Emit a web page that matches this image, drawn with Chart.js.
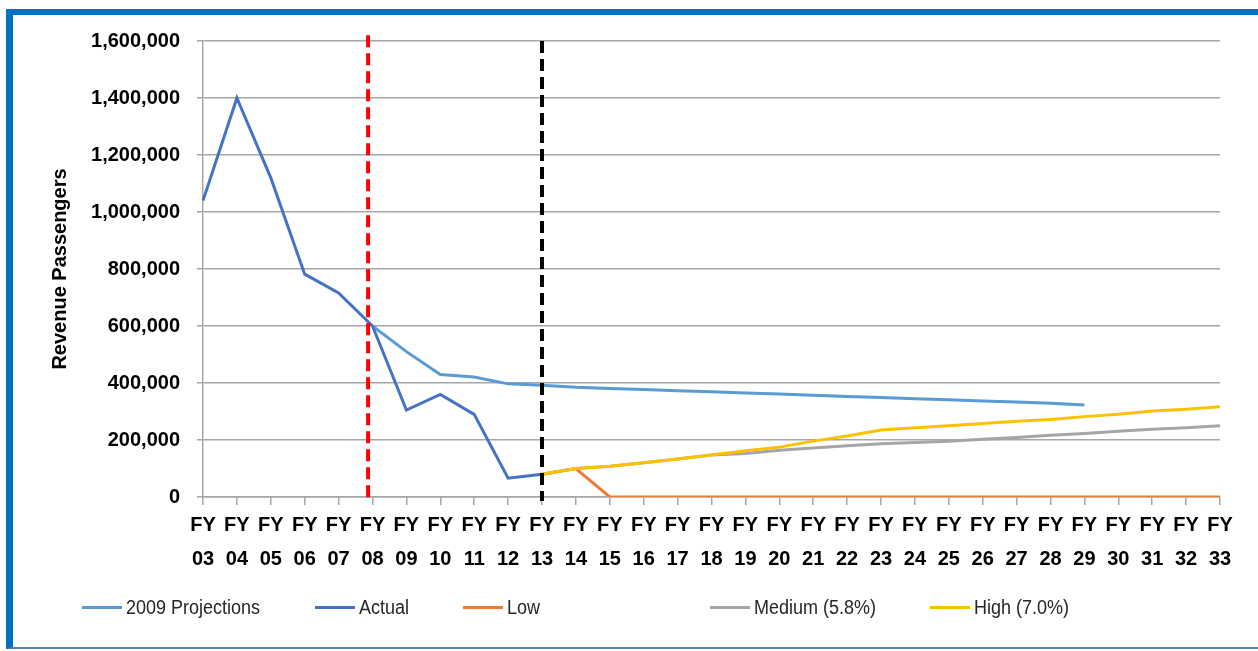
<!DOCTYPE html>
<html>
<head>
<meta charset="utf-8">
<script src="https://cdn.jsdelivr.net/npm/chart.js@4"></script>
<style>
  html, body { margin:0; padding:0; background:#fff; }
  #wrap { position:relative; width:1258px; height:651px; overflow:hidden; background:#fff; }
  #frame { position:absolute; left:6px; top:9px; width:1300px; height:640px;
           border-left:7px solid #0070C0; border-top:6px solid #0070C0; border-bottom:2px solid #5A7FA8; box-sizing:border-box; }
  #c { position:absolute; left:0; top:0; }
  .lg { position:absolute; top:596px; height:22px; display:flex; align-items:center;
        font-family:"Liberation Sans", Arial, sans-serif; font-size:20px; color:#262626; white-space:nowrap; }
  .lg span.ln { display:inline-block; width:40px; height:3px; margin-right:4px; }
  .lg span.tx { display:inline-block; transform:scaleX(0.9); transform-origin:left center; }
</style>
</head>
<body>
<div id="wrap">
  <div id="frame"></div>
  <canvas id="c" width="1258" height="651"></canvas>
  <div id="legend"></div>
</div>
<script>
// ---- data ----
const fyYears = ['03','04','05','06','07','08','09','10','11','12','13','14','15','16','17','18','19','20','21','22','23','24','25','26','27','28','29','30','31','32','33'];
const seriesNames = ['2009 Projections','Actual','Low','Medium (5.8%)','High (7.0%)'];
const seriesColors = ['#5B9BD5','#4472C4','#ED7D31','#A5A5A5','#FFC000'];
// values: FY03 .. FY33 (null = no value)
const projections2009 = [null,null,null,null,null,600000,510000,430000,421000,397000,392000,385000,381000,377000,373000,369000,365000,361000,357000,353000,349000,345000,341000,337000,333000,329000,323000,null,null,null,null];
const actual = [1040000,1400000,1120000,782000,716000,600000,305000,360000,290000,66000,80000,null,null,null,null,null,null,null,null,null,null,null,null,null,null,null,null,null,null,null,null];
const low = [null,null,null,null,null,null,null,null,null,null,80000,100000,0,0,0,0,0,0,0,0,0,0,0,0,0,0,0,0,0,0,0];
const medium = [null,null,null,null,null,null,null,null,null,null,80000,100000,108000,120000,133000,147000,153000,164000,172000,180000,187000,191000,196000,203000,209000,217000,223000,231000,238000,243000,250000];
const high = [null,null,null,null,null,null,null,null,null,null,80000,100000,108000,120000,133000,147000,162000,175000,196000,214000,235000,243000,250000,258000,266000,272000,282000,290000,302000,308000,317000];
const yTicks = [0,200000,400000,600000,800000,1000000,1200000,1400000,1600000];
// reference lines (category index positions)
const refLines = [{at:4.87, top:1620000, color:'#FF0000'}, {at:10, top:1600000, color:'#000000'}];

const allSeries = [projections2009, actual, low, medium, high];
const labels = fyYears.map(y => ['FY', y]);

const datasets = allSeries.map((d, i) => ({
  label: seriesNames[i],
  data: d,
  borderColor: seriesColors[i],
  backgroundColor: seriesColors[i],
  borderWidth: 3,
  pointRadius: 0,
  tension: 0,
  spanGaps: false,
  order: allSeries.length - i
}));

const refLinePlugin = {
  id: 'refLines',
  afterDatasetsDraw(chart) {
    const ctx = chart.ctx, x = chart.scales.x, y = chart.scales.y;
    ctx.save();
    refLines.forEach(r => {
      const px = x.getPixelForValue(r.at);
      ctx.beginPath();
      ctx.strokeStyle = r.color;
      ctx.lineWidth = 4;
      ctx.setLineDash([12, 6]);
      ctx.moveTo(px, y.getPixelForValue(r.top));
      ctx.lineTo(px, y.getPixelForValue(0) + 4);
      ctx.stroke();
    });
    ctx.restore();
  }
};

new Chart(document.getElementById('c'), {
  type: 'line',
  data: { labels, datasets },
  options: {
    responsive: false,
    animation: false,
    devicePixelRatio: 1,
    layout: { padding: { left: 45, right: 38, top: 41, bottom: 72 } },
    plugins: { legend: { display: false }, tooltip: { enabled: false } },
    scales: {
      x: {
        type: 'category',
        offset: false,
        grid: { drawOnChartArea: false, drawTicks: true, tickLength: 8, color: '#A6A6A6', lineWidth: 1.5 },
        border: { display: true, color: '#A6A6A6', width: 1.5 },
        ticks: {
          autoSkip: false, maxRotation: 0, minRotation: 0, padding: 3, color: '#000',
          font: { family: '"Liberation Sans", Arial, sans-serif', size: 20, weight: 'bold', lineHeight: 1.7 }
        }
      },
      y: {
        min: 0, max: 1600000,
        afterFit(scale) { scale.width = 158; },
        afterBuildTicks(scale) { scale.ticks = yTicks.map(v => ({ value: v })); },
        grid: { color: '#A6A6A6', lineWidth: 1.5, tickLength: 6 },
        border: { display: true, color: '#A6A6A6', width: 1.5 },
        ticks: {
          padding: 17, color: '#000',
          font: { family: '"Liberation Sans", Arial, sans-serif', size: 20, weight: 'bold' },
          callback: v => Number(v).toLocaleString('en-US')
        },
        title: {
          display: true, text: 'Revenue Passengers', color: '#000',
          font: { family: '"Liberation Sans", Arial, sans-serif', size: 20, weight: 'bold' },
          padding: { top: 3, bottom: 0 }
        }
      }
    }
  },
  plugins: [refLinePlugin]
});

// legend (HTML)
const legendLeft = [82, 315, 463, 710, 930];
const lg = document.getElementById('legend');
seriesNames.forEach((n, i) => {
  const d = document.createElement('div');
  d.className = 'lg';
  d.style.left = legendLeft[i] + 'px';
  const s = document.createElement('span');
  s.className = 'ln';
  s.style.background = seriesColors[i];
  d.appendChild(s);
  const t = document.createElement('span');
  t.className = 'tx';
  t.textContent = n;
  d.appendChild(t);
  lg.appendChild(d);
});
</script>
</body>
</html>
